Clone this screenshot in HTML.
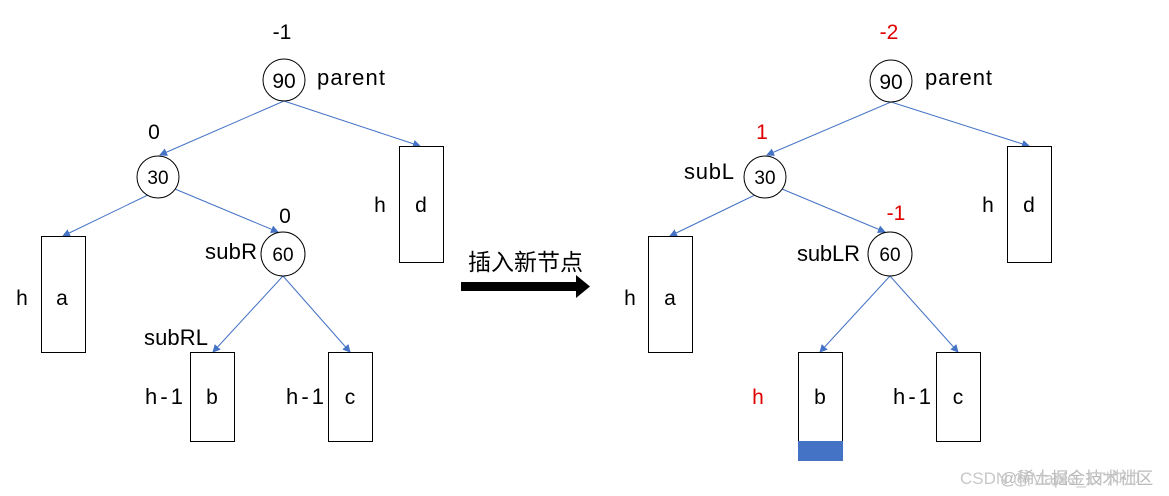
<!DOCTYPE html>
<html><head><meta charset="utf-8"><style>
html,body{margin:0;padding:0;background:#fff}
svg{display:block}
text{font-family:"Liberation Sans","Noto Sans CJK SC",sans-serif;fill:#000}
</style></head><body>
<svg width="1169" height="496" viewBox="0 0 1169 496" xmlns="http://www.w3.org/2000/svg">
<defs>
<marker id="ar" markerWidth="8" markerHeight="8" refX="7" refY="4" orient="auto" markerUnits="userSpaceOnUse">
<path d="M0,0 L8,4 L0,8 Z" fill="#4472c4"/></marker>
</defs>
<g stroke="#4472c4" stroke-width="1" fill="none" marker-end="url(#ar)">
<line x1="284" y1="101" x2="160" y2="155"/>
<line x1="284" y1="101" x2="420" y2="146"/>
<line x1="150" y1="194" x2="63" y2="236"/>
<line x1="175" y1="189" x2="278" y2="232"/>
<line x1="283" y1="276" x2="213" y2="352"/>
<line x1="283" y1="276" x2="350" y2="352"/>
<line x1="891" y1="102" x2="767" y2="155"/>
<line x1="891" y1="102" x2="1029" y2="146"/>
<line x1="757" y1="194" x2="670" y2="236"/>
<line x1="782" y1="189" x2="885" y2="232"/>
<line x1="890" y1="276" x2="820" y2="352"/>
<line x1="890" y1="276" x2="958" y2="352"/>
</g>
<g stroke="#000" stroke-width="1" fill="#fff">
<circle cx="284" cy="80" r="21"/><circle cx="158" cy="177" r="21"/><circle cx="283" cy="254" r="22"/>
<circle cx="891" cy="81" r="21"/><circle cx="765" cy="177" r="21"/><circle cx="890" cy="254" r="22"/>
<rect x="399.5" y="146.5" width="44" height="116"/>
<rect x="41.5" y="236.5" width="44" height="116"/>
<rect x="190.5" y="352.5" width="44" height="89"/>
<rect x="328.5" y="352.5" width="44" height="89"/>
<rect x="1007.5" y="146.5" width="44" height="116"/>
<rect x="648.5" y="236.5" width="44" height="116"/>
<rect x="798.5" y="352.5" width="44" height="89"/>
<rect x="936.5" y="352.5" width="44" height="89"/>
</g>
<rect x="798" y="441" width="45" height="20" fill="#4472c4"/>
<g font-size="21" text-anchor="middle">
<text x="284" y="88">90</text><text x="158" y="184" font-size="19">30</text><text x="283" y="261" font-size="19">60</text>
<text x="891" y="89">90</text><text x="765" y="184" font-size="19">30</text><text x="890" y="261" font-size="19">60</text>
<text x="282" y="39">-1</text><text x="154" y="139">0</text><text x="285" y="223">0</text>
<text x="421" y="212">d</text><text x="62" y="305">a</text><text x="212" y="404">b</text><text x="350" y="404">c</text>
<text x="380" y="212">h</text><text x="22" y="305">h</text>
<text x="1029" y="212">d</text><text x="670" y="305">a</text><text x="820" y="404">b</text><text x="958" y="404">c</text>
<text x="988" y="212">h</text><text x="630" y="305">h</text>
<text x="889" y="39" style="fill:#e00000">-2</text>
<text x="762" y="139" style="fill:#e00000">1</text>
<text x="896" y="220" style="fill:#e00000">-1</text>
<text x="758" y="404" style="fill:#e00000">h</text>
</g>
<g font-size="22">
<text x="317" y="85" textLength="68">parent</text><text x="925" y="85" textLength="67">parent</text>
<text x="205" y="259" textLength="52">subR</text><text x="144" y="345" textLength="64">subRL</text>
<text x="145" y="404" textLength="38">h-1</text><text x="286" y="404" textLength="38">h-1</text>
<text x="684" y="179" textLength="50">subL</text><text x="797" y="261" textLength="63">subLR</text>
<text x="893" y="404" textLength="38">h-1</text>
<text x="468" y="270" font-size="23">插入新节点</text>
</g>
<rect x="461" y="282" width="117" height="9" fill="#000"/>
<path d="M576,275 L590,286.5 L576,298 Z" fill="#000"/>
<g font-size="17">
<text x="1000" y="484" style="fill:#bbb">@稀土掘金技术社区</text>
<text x="960" y="484" style="fill:#c8c8c8">CSDN @Maple_1T帅帅</text>
</g>
</svg>
</body></html>
